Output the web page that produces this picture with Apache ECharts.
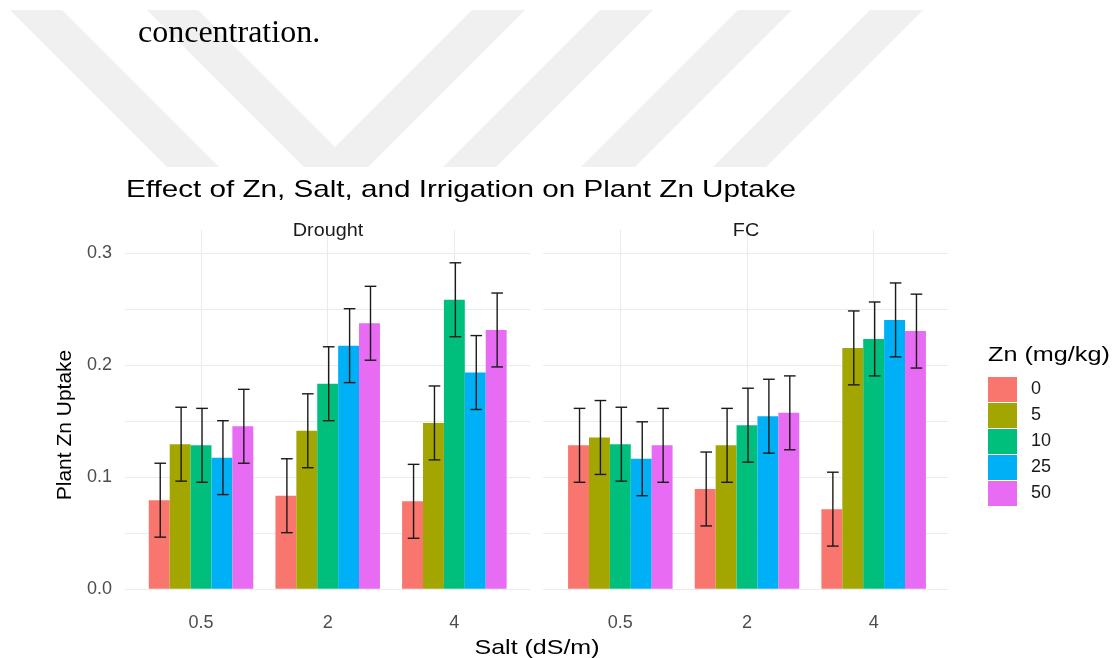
<!DOCTYPE html>
<html>
<head>
<meta charset="utf-8">
<script src="https://cdn.jsdelivr.net/npm/echarts@6/dist/echarts.min.js"></script>
<style>
html,body{margin:0;padding:0;background:#fff;}
#chart{width:1119px;height:658px;}
</style>
</head>
<body>
<div id="chart"></div>
<script>
// ---- data ----
const saltLevels = ['0.5', '2', '4'];
const znLevels = ['0', '5', '10', '25', '50'];
const znColors = ['#F8766D', '#A3A500', '#00BF7D', '#00B0F6', '#E76BF3'];
const panels = ['Drought', 'FC'];

// Drought panel means (per Zn level, across salt 0.5, 2, 4)
const droughtZn0  = [0.079, 0.083, 0.078];
const droughtZn5  = [0.129, 0.141, 0.148];
const droughtZn10 = [0.128, 0.183, 0.258];
const droughtZn25 = [0.117, 0.217, 0.193];
const droughtZn50 = [0.145, 0.237, 0.231];
// FC panel means
const fcZn0  = [0.128, 0.089, 0.071];
const fcZn5  = [0.135, 0.128, 0.215];
const fcZn10 = [0.129, 0.146, 0.223];
const fcZn25 = [0.116, 0.154, 0.240];
const fcZn50 = [0.128, 0.157, 0.230];
// error half-widths
const droughtErr0  = [0.033, 0.033, 0.033];
const droughtErr5  = [0.033, 0.033, 0.033];
const droughtErr10 = [0.033, 0.033, 0.033];
const droughtErr25 = [0.033, 0.033, 0.033];
const droughtErr50 = [0.033, 0.033, 0.033];
const fcErr0  = [0.033, 0.033, 0.033];
const fcErr5  = [0.033, 0.033, 0.033];
const fcErr10 = [0.033, 0.033, 0.033];
const fcErr25 = [0.033, 0.033, 0.033];
const fcErr50 = [0.033, 0.033, 0.033];
const yTicks = [0, 0.1, 0.2, 0.3];

const panelMeans = [
  [droughtZn0, droughtZn5, droughtZn10, droughtZn25, droughtZn50],
  [fcZn0, fcZn5, fcZn10, fcZn25, fcZn50]
];
const panelErrs = [
  [droughtErr0, droughtErr5, droughtErr10, droughtErr25, droughtErr50],
  [fcErr0, fcErr5, fcErr10, fcErr25, fcErr50]
];

// ---- layout ----
const SANS = '"Liberation Sans", Arial, sans-serif';
const BAR_FRAC = 0.165;
const gridColor = '#EBEBEB';

const chart = echarts.init(document.getElementById('chart'), null, {renderer: 'canvas'});

const grids = [
  {left: 125, top: 253, width: 405, height: 336},
  {left: 543, top: 253, width: 405, height: 336},
  {left: 137.7, top: 246, width: 380, height: 359},
  {left: 557, top: 246, width: 380, height: 359}
];

const xAxes = [
  {gridIndex: 0, type: 'value', min: 0, max: 1, show: false},
  {gridIndex: 1, type: 'value', min: 0, max: 1, show: false}
];
const yAxes = [];
for (let p = 0; p < 2; p++) {
  yAxes.push({
    gridIndex: p, type: 'value', min: 0, max: 0.3, interval: 0.05,
    axisLine: {show: false}, axisTick: {show: false},
    splitLine: {show: true, lineStyle: {color: gridColor, width: 1}},
    axisLabel: {
      show: p === 0, margin: 13, color: '#4D4D4D', fontSize: 18, fontFamily: SANS,
      formatter: function (v) {
        for (const t of yTicks) { if (Math.abs(v - t) < 1e-6) return t.toFixed(1); }
        return '';
      }
    }
  });
}
for (let p = 0; p < 2; p++) {
  xAxes.push({
    gridIndex: 2 + p, type: 'category', data: saltLevels, boundaryGap: true,
    axisLine: {show: false},
    axisTick: {show: true, alignWithLabel: true, inside: true, length: 359,
               lineStyle: {color: gridColor, width: 1}},
    splitLine: {show: false},
    axisLabel: {margin: 9, color: '#4D4D4D', fontSize: 18, fontFamily: SANS}
  });
  yAxes.push({gridIndex: 2 + p, type: 'value', min: -0.0146, max: 0.306, show: false,
              splitLine: {show: false}});
}

const series = [];
for (let p = 0; p < 2; p++) {
  znLevels.forEach(function (lvl, i) {
    series.push({
      type: 'bar', name: lvl, xAxisIndex: 2 + p, yAxisIndex: 2 + p,
      data: panelMeans[p][i], barWidth: (BAR_FRAC * 100) + '%', barGap: '0%',
      itemStyle: {color: znColors[i]}, z: 2, silent: true
    });
  });
  znLevels.forEach(function (lvl, i) {
    const means = panelMeans[p][i], errs = panelErrs[p][i];
    series.push({
      type: 'custom', xAxisIndex: 2 + p, yAxisIndex: 2 + p, z: 5, silent: true,
      encode: {x: 0, y: [1, 2]},
      data: means.map(function (m, k) { return [k, m - errs[k], m + errs[k]]; }),
      renderItem: function (params, api) {
        const band = api.size([1, 0])[0];
        const c = api.coord([api.value(0), 0])[0] + (i - 2) * BAR_FRAC * band + 1;
        const yl = api.coord([api.value(0), api.value(1)])[1];
        const yh = api.coord([api.value(0), api.value(2)])[1];
        const hw = band * 0.046;
        const st = {stroke: '#1a1a1a', lineWidth: 1.4};
        return {type: 'group', children: [
          {type: 'line', shape: {x1: c, y1: yl, x2: c, y2: yh}, style: st},
          {type: 'line', shape: {x1: c - hw, y1: yl, x2: c + hw, y2: yl}, style: st},
          {type: 'line', shape: {x1: c - hw, y1: yh, x2: c + hw, y2: yh}, style: st}
        ]};
      }
    });
  });
}

// watermark bands
const WM = '#F0F0F0';
const wmPolys = [
  [[10,10],[62,10],[219,167],[167,167]],
  [[147,10],[198,10],[335,147],[472,10],[525,10],[368,167],[304,167]],
  [[600,10],[653,10],[496,167],[443,167]],
  [[738,10],[792,10],[635,167],[581,167]],
  [[870,10],[923,10],[766,167],[713,167]]
];
const graphics = wmPolys.map(function (pts) {
  return {type: 'polygon', shape: {points: pts}, style: {fill: WM}, z: -10, silent: true};
});
graphics.push(
  {type: 'text', x: 138, y: 34, z: 10,
   style: {text: 'concentration.', font: '32px "Liberation Serif", "Times New Roman", serif',
           fill: '#000', textAlign: 'left', textVerticalAlign: 'middle'}},
  {type: 'text', x: 126, y: 190.5, scaleX: 1.235, z: 10,
   style: {text: 'Effect of Zn, Salt, and Irrigation on Plant Zn Uptake', font: '24px ' + SANS,
           fill: '#000', textAlign: 'left', textVerticalAlign: 'middle'}},
  {type: 'text', x: 328, y: 231, scaleX: 1.1, z: 10,
   style: {text: panels[0], font: '18px ' + SANS, fill: '#1A1A1A', textAlign: 'center', textVerticalAlign: 'middle'}},
  {type: 'text', x: 746, y: 231, scaleX: 1.1, z: 10,
   style: {text: panels[1], font: '18px ' + SANS, fill: '#1A1A1A', textAlign: 'center', textVerticalAlign: 'middle'}},
  {type: 'text', x: 65, y: 425, rotation: Math.PI / 2, z: 10,
   style: {text: 'Plant Zn Uptake', font: '21px ' + SANS, fill: '#000', textAlign: 'center', textVerticalAlign: 'middle'}},
  {type: 'text', x: 537, y: 648, scaleX: 1.19, z: 10,
   style: {text: 'Salt (dS/m)', font: '21px ' + SANS, fill: '#000', textAlign: 'center', textVerticalAlign: 'middle'}},
  {type: 'text', x: 988, y: 355, scaleX: 1.2, z: 10,
   style: {text: 'Zn (mg/kg)', font: '21px ' + SANS, fill: '#000', textAlign: 'left', textVerticalAlign: 'middle'}}
);

chart.setOption({
  animation: false,
  backgroundColor: '#FFFFFF',
  grid: grids,
  xAxis: xAxes,
  yAxis: yAxes,
  legend: {
    data: znLevels, orient: 'vertical', left: 988, top: 377, padding: 0,
    itemWidth: 29, itemHeight: 25, itemGap: 1, icon: 'rect', selectedMode: false,
    textStyle: {color: '#1A1A1A', fontSize: 18, fontFamily: SANS, padding: [0, 0, 0, 9]}
  },
  graphic: {elements: graphics},
  series: series
});
</script>
</body>
</html>
